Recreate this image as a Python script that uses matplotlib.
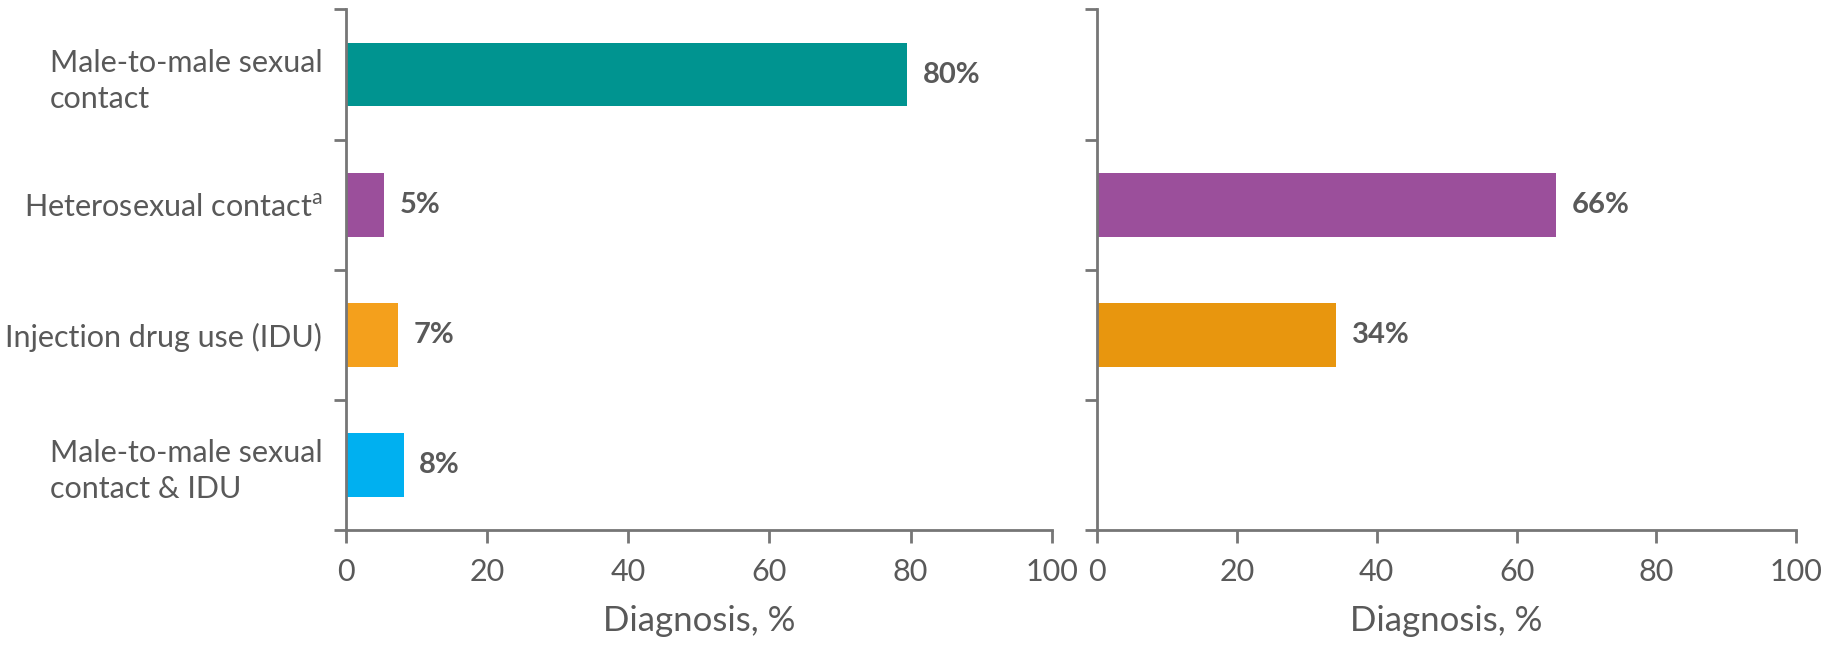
import matplotlib.pyplot as plt
import numpy as np

plt.rcParams['font.family'] = ['Lato', 'DejaVu Sans']
plt.rcParams['mathtext.default'] = 'regular'

categories = ["Male-to-male sexual\ncontact",
              "Heterosexual contact$^{a}$",
              "Injection drug use (IDU)",
              "Male-to-male sexual\ncontact & IDU"]
left_values = [79.5, 5.4, 7.4, 8.2]
left_colors = ["#009490", "#9B4F9B", "#F4A01C", "#00B0F0"]
right_values = [np.nan, 65.7, 34.2, np.nan]
right_colors = ["#009490", "#9B4F9B", "#E8960E", "#00B0F0"]
xticks = [0, 20, 40, 60, 80, 100]

grey = "#595959"
spine = "#767676"

fig = plt.figure(figsize=(18.47, 6.45), dpi=100)
ax1 = fig.add_axes([0.1873, 0.1783, 0.3822, 0.807])
ax2 = fig.add_axes([0.594, 0.1783, 0.3785, 0.807])

ypos = np.arange(len(categories)) + 0.5


def draw(ax, values, colors, show_labels):
    for y, v, c in zip(ypos, values, colors):
        if np.isnan(v):
            continue
        ax.barh(y, v, height=0.49, color=c)
        ax.text(v + 2.2, y, f"{round(v)}%", va="center", ha="left",
                fontsize=21, fontweight="bold", color=grey)
    ax.set_xlim(0, 100)
    ax.set_ylim(len(categories), 0)
    ax.set_xticks(xticks)
    ax.set_yticks(np.arange(len(categories) + 1), minor=True)
    ax.set_yticks(ypos)
    if show_labels:
        ax.set_yticklabels(categories, fontsize=22, color=grey,
                           multialignment="left", linespacing=1.35)
    else:
        ax.set_yticklabels([])
    ax.tick_params(axis="y", which="major", length=0, pad=17)
    ax.tick_params(axis="y", which="minor", length=9, width=2, color=spine)
    ax.tick_params(axis="x", length=9, width=2, color=spine,
                   labelsize=22, labelcolor=grey, pad=11)
    for s in ["top", "right"]:
        ax.spines[s].set_visible(False)
    for s in ["left", "bottom"]:
        ax.spines[s].set_color(spine)
        ax.spines[s].set_linewidth(2)
    ax.set_xlabel("Diagnosis, %", fontsize=25, color=grey, labelpad=14)


draw(ax1, left_values, left_colors, True)
draw(ax2, right_values, right_colors, False)

fig.savefig("out.png", dpi=100)
